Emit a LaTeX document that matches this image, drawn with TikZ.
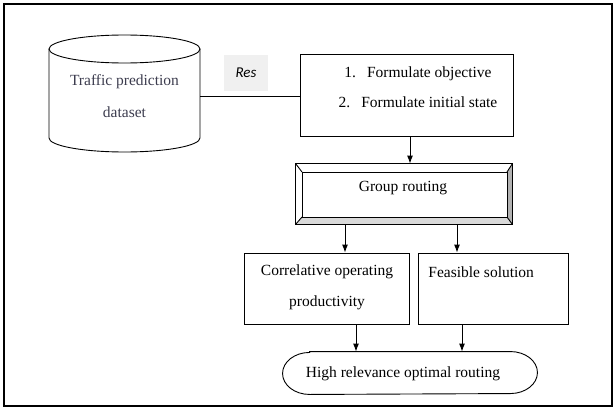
\documentclass[tikz,border=0pt]{standalone}
\usepackage{fontspec}
\setmainfont{Liberation Serif}
\newfontfamily\resfont{Carlito}
\usetikzlibrary{arrows.meta}
\definecolor{slatetext}{RGB}{60,60,78}

\begin{document}
\begin{tikzpicture}[x=1pt, y=1pt, line width=0.9pt,
    every node/.style={font=\fontsize{15.5}{30}\selectfont},
    plainbox/.style={draw, inner sep=0pt},
    label/.style={inner sep=0pt, align=center},
    flow/.style={-{Latex[length=8pt,width=6pt]}}]
    \useasboundingbox (0,0) rectangle (615,408);
    \draw[line width=1.1pt] (4,2) rectangle (612,404);

    % Dataset (cylinder)
    \draw (124.5,359) ellipse (75.5pt and 14pt);
    \draw (49,359) -- (49,270) arc (180:360:75.5pt and 14pt) -- (200,359);
    \node[label, minimum width=151pt, text=slatetext,
        font=\fontsize{15.5}{32}\selectfont] (data) at (124.5,312)
        {Traffic prediction\\dataset};

    % Res tag
    \node[fill=gray!12, minimum width=44pt, minimum height=35pt,
        font=\resfont\itshape\fontsize{15}{18}\selectfont] (res) at (246,335) {Res};

    % Objective box
    \node[plainbox, minimum width=213pt, minimum height=82pt] (goal) at (406.5,313) {};
    \node[label] (goaltext) at (418,321)
        {1.\hspace{11pt}Formulate objective\\2.\hspace{11pt}Formulate initial state};
    \draw (data.east) -- (data.east -| goal.west);

    % Group routing (bevelled frame)
    \node[inner sep=0pt, minimum width=216pt, minimum height=60pt] (group) at (404,214) {};
    \coordinate (gin-sw) at (302,191);
    \coordinate (gin-ne) at (507,236);
    \fill[gray!60] (group.north east) -- (group.south east) -- (gin-sw -| gin-ne) -- (gin-ne) -- cycle;
    \fill[gray!30] (group.south west) -- (group.south east) -- (gin-sw -| gin-ne) -- (gin-sw) -- cycle;
    \draw (group.north west) rectangle (group.south east);
    \draw (gin-sw) rectangle (gin-ne);
    \draw (group.north west) -- (gin-sw |- gin-ne);
    \draw (group.north east) -- (gin-ne);
    \draw (group.south west) -- (gin-sw);
    \draw (group.south east) -- (gin-sw -| gin-ne);
    \node (grouptext) at (403,220) {Group routing};

    % Two outcome boxes
    \node[plainbox, minimum width=165pt, minimum height=71pt] (corr) at (326.5,119.5) {};
    \node[label, font=\fontsize{15.5}{31}\selectfont] (corrtext) at (327,120.5)
        {Correlative operating\\productivity};
    \node[plainbox, minimum width=150pt, minimum height=71pt] (feas) at (493,119.5) {};
    \node[label, anchor=west] (feastext) at (428,136) {Feasible solution};

    % Final routing (stadium with elliptic ends)
    \node[inner sep=0pt, minimum width=254pt, minimum height=42pt] (opt) at (410,35) {};
    \draw ([xshift=27pt]opt.north west) -- ([xshift=-27pt]opt.north east)
        arc (90:-90:27pt and 21pt) -- ([xshift=27pt]opt.south west)
        arc (270:90:27pt and 21pt) -- cycle;
    \node (opttext) at (403,34) {High relevance optimal routing};

    % Arrow columns
    \coordinate (c1) at (410,0);
    \coordinate (c2) at (345,0);
    \coordinate (c3) at (457,0);
    \coordinate (c4) at (356,0);
    \coordinate (c5) at (462,0);
    \draw[flow] (goal.south -| c1) -- (group.north -| c1);
    \draw[flow] (group.south -| c2) -- (corr.north -| c2);
    \draw[flow] (group.south -| c3) -- (feas.north -| c3);
    \draw[flow] (corr.south -| c4) -- (opt.north -| c4);
    \draw[flow] (feas.south -| c5) -- (opt.north -| c5);
\end{tikzpicture}
\end{document}
